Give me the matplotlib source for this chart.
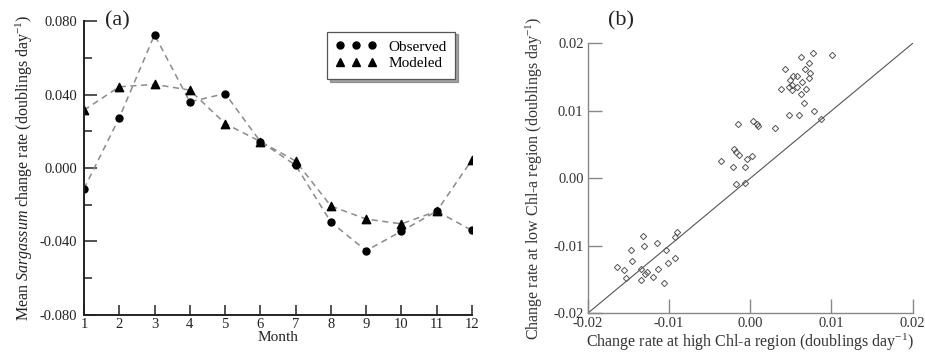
import matplotlib
matplotlib.use('Agg')
import matplotlib.pyplot as plt
from matplotlib.lines import Line2D
from matplotlib.ticker import MultipleLocator

plt.rcParams['font.family'] = 'Liberation Serif'
plt.rcParams['mathtext.fontset'] = 'custom'
plt.rcParams['mathtext.rm'] = 'Liberation Serif'
plt.rcParams['mathtext.it'] = 'Liberation Serif:italic'

# Panel (a): monthly mean change rate
months = [1, 2, 3, 4, 5, 6, 7, 8, 9, 10, 11, 12]
observed = [-0.0113, 0.0273, 0.0725, 0.0360, 0.0405, 0.0144, 0.0015, -0.0295,
            -0.0450, -0.0344, -0.0235, -0.0340]
modeled = [0.0315, 0.0442, 0.0455, 0.0424, 0.0242, 0.0144, 0.0038, -0.0207,
           -0.0278, -0.0304, -0.0235, 0.0045]

# Panel (b): high Chl-a vs low Chl-a change rate
high_chl = [0.0062, 0.0077, 0.0101, 0.0043, 0.0067, 0.0072, 0.0053, 0.0058,
            0.0049, 0.0064, 0.0073, 0.0072, 0.0052, 0.0057, 0.0048, 0.0038,
            0.0051, 0.0069, 0.0063, 0.0066, 0.0078, 0.0048, 0.0060, 0.0087,
            0.0031,
            -0.0015, 0.0003, 0.0008, 0.0009, -0.0036, -0.0020, -0.0018,
            -0.0014, 0.0002, -0.0004, -0.0021, -0.0006, -0.0017, -0.0006,
            -0.0090, -0.0092, -0.0132, -0.0147, -0.0131, -0.0115, -0.0104,
            -0.0145, -0.0164, -0.0155, -0.0153, -0.0134, -0.0127, -0.0129,
            -0.0114, -0.0120, -0.0101, -0.0093, -0.0134, -0.0106]
low_chl = [0.0179, 0.0186, 0.0183, 0.0162, 0.0162, 0.0171, 0.0151, 0.0151,
           0.0145, 0.0143, 0.0156, 0.0148, 0.0138, 0.0135, 0.0136, 0.0132,
           0.0131, 0.0132, 0.0125, 0.0111, 0.0100, 0.0094, 0.0094, 0.0088,
           0.0075,
           0.0080, 0.0085, 0.0080, 0.0078, 0.0025, 0.0043, 0.0039,
           0.0034, 0.0033, 0.0029, 0.0017, 0.0017, -0.0008, -0.0007,
           -0.0080, -0.0087, -0.0085, -0.0106, -0.0101, -0.0096, -0.0106,
           -0.0122, -0.0132, -0.0136, -0.0148, -0.0134, -0.0139, -0.0142,
           -0.0135, -0.0146, -0.0126, -0.0118, -0.0151, -0.0155]
one_to_one = [-0.02, 0.02]

fig = plt.figure(figsize=(9.25, 3.55), dpi=100)
ax1 = fig.add_axes([0.0908, 0.1127, 0.4195, 0.8281])
ax2 = fig.add_axes([0.6354, 0.1175, 0.3513, 0.7605])

# ---- panel (a)
# dashed line + markers as scatter so the edge markers get cut by the axes
for vals, mk, size in [(observed, 'o', 5), (modeled, '^', 6)]:
    ax1.plot(months, vals, ls=(0, (4, 3)), color='#8a8a8a', lw=1.1)
    ax1.scatter(months, vals, marker=mk, s=size ** 2, color='black',
                zorder=3)

ax1.set_xlim(1, 12)
ax1.set_ylim(-0.08, 0.08)
ax1.set_xticks(months)
ax1.yaxis.set_major_locator(MultipleLocator(0.04))
ax1.yaxis.set_minor_locator(MultipleLocator(0.02))
ax1.set_yticklabels([f'{v:.3f}' for v in ax1.get_yticks()])
for s in ['top', 'right']:
    ax1.spines[s].set_visible(False)
for s in ['left', 'bottom']:
    ax1.spines[s].set_linewidth(1.4)
    ax1.spines[s].set_color('#222222')
    ax1.spines[s].set_zorder(4)
ax1.tick_params(which='major', direction='in', length=9.5, width=1.1,
                labelsize=10.5, colors='#222222', pad=5)
ax1.tick_params(which='minor', direction='in', length=6, width=1.1,
                colors='#222222')
ax1.tick_params(axis='x', length=7, pad=2)
ax1.set_xlabel('Month', fontsize=11, labelpad=0, color='#222222')
ax1.set_ylabel('Mean $\\it{Sargassum}$ change rate (doublings day$^{-1}$)',
               fontsize=11.5, color='#222222', labelpad=3)
ax1.text(0.055, 1.0, '(a)', transform=ax1.transAxes, fontsize=16,
         va='center', ha='left', color='#222222')

handles = [Line2D([], [], ls='none', marker='o', ms=5, color='black'),
           Line2D([], [], ls='none', marker='^', ms=6, color='black')]
leg = ax1.legend(handles, ['Observed', 'Modeled'], numpoints=3,
                 loc='upper right', bbox_to_anchor=(0.977, 0.99),
                 fontsize=11, frameon=True, fancybox=False, shadow=True,
                 borderpad=0.55, handlelength=2.7, handletextpad=0.8,
                 labelspacing=0.2)
leg.get_frame().set_edgecolor('#555555')
leg.get_frame().set_linewidth(0.9)

# ---- panel (b)
ax2.plot(one_to_one, one_to_one, color='#555555', lw=0.8)
ax2.plot(high_chl, low_chl, ls='none', marker='D', ms=3.2, mfc='none',
         mec='#555555', mew=0.7)
ax2.set_xlim(-0.02, 0.02)
ax2.set_ylim(-0.02, 0.02)
ticks_b = [-0.02, -0.01, 0.0, 0.01, 0.02]
ax2.set_xticks(ticks_b)
ax2.set_yticks(ticks_b)
ax2.set_xticklabels([f'{v:.2f}' for v in ticks_b])
ax2.set_yticklabels([f'{v:.2f}' for v in ticks_b])
for s in ['top', 'right']:
    ax2.spines[s].set_visible(False)
for s in ['left', 'bottom']:
    ax2.spines[s].set_linewidth(1.0)
    ax2.spines[s].set_color('#888888')
ax2.tick_params(direction='in', length=10, width=1.0, color='#888888',
                labelcolor='#333333', labelsize=10.5, pad=3)
ax2.set_xlabel('Change rate at high Chl-a region (doublings day$^{-1}$)',
               fontsize=11.5, color='#333333', labelpad=1)
ax2.set_ylabel('Change rate at low Chl-a region (doublings day$^{-1}$)',
               fontsize=11.5, color='#333333', labelpad=6)
ax2.text(0.062, 1.085, '(b)', transform=ax2.transAxes, fontsize=16,
         va='center', ha='left', color='#222222')

fig.savefig('out.png', dpi=100)
